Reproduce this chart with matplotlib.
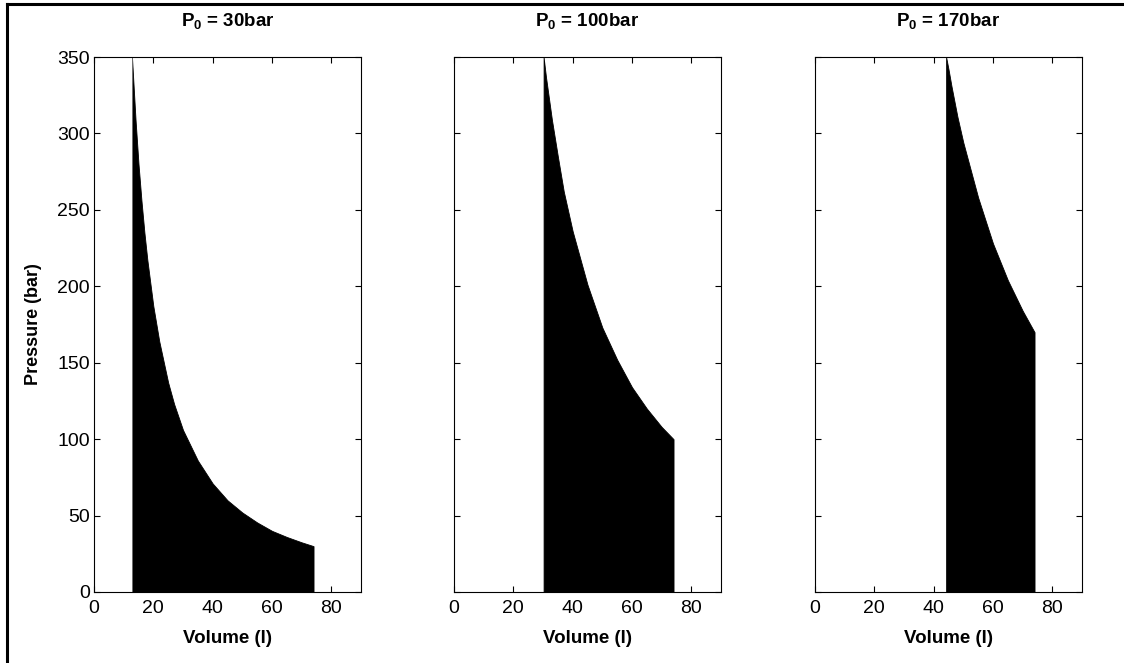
import matplotlib
matplotlib.use("Agg")
import matplotlib.pyplot as plt
from matplotlib.lines import Line2D

plt.rcParams['font.family'] = ['Liberation Sans', 'DejaVu Sans']
plt.rcParams['mathtext.fontset'] = 'custom'
plt.rcParams['mathtext.rm'] = 'Liberation Sans'
plt.rcParams['mathtext.bf'] = 'Liberation Sans:bold'

# values (volume in l, pressure in bar)
titles = ['P$_\\mathbf{0}$ = 30bar', 'P$_\\mathbf{0}$ = 100bar', 'P$_\\mathbf{0}$ = 170bar']

vol_30 = [12.8, 13, 14, 15, 16, 17, 18, 20, 22, 25, 27, 30, 35, 40, 45, 50, 55, 60, 65, 70, 74]
pres_30 = [350, 343, 309, 280, 256, 235, 217, 187, 164, 137, 123, 106, 86, 71, 60, 52, 45.5, 40, 36, 32.5, 30]

vol_100 = [30.2, 31, 32, 33, 35, 37, 40, 45, 50, 55, 60, 65, 70, 74]
pres_100 = [350, 337, 323, 309, 285, 262, 236, 201, 173, 152, 134, 120, 108, 100]

vol_170 = [44.2, 45, 46, 48, 50, 55, 60, 65, 70, 74]
pres_170 = [350, 342, 331, 311, 294, 258, 228, 204, 184, 170]

series = [(vol_30, pres_30), (vol_100, pres_100), (vol_170, pres_170)]
x_ticks = [0, 20, 40, 60, 80]
y_ticks = [0, 50, 100, 150, 200, 250, 300, 350]

fig = plt.figure(figsize=(11.24, 6.63), dpi=100)

# outer frame
fig.add_artist(Line2D([7 / 1124, 7 / 1124], [0, 1 - 4 / 663], transform=fig.transFigure, color='black', lw=2.2))
fig.add_artist(Line2D([7 / 1124, 1], [1 - 4 / 663, 1 - 4 / 663], transform=fig.transFigure, color='black', lw=2.2))

lefts = [94 / 1124, 454 / 1124, 815 / 1124]
width = 267 / 1124
bottom = 1 - 592 / 663
height = 535 / 663

for i, (vol, pres) in enumerate(series):
    ax = fig.add_axes([lefts[i], bottom, width, height])
    ax.fill_between(vol, 0, pres, facecolor='black', edgecolor='black', linewidth=0.6)
    if i == 0:
        ax.plot([vol[0], vol[0]], [0, pres[0]], color='#808080', lw=0.6)
    ax.set_xlim(0, 90)
    ax.set_ylim(0, 350)
    ax.set_xticks(x_ticks)
    ax.set_yticks(y_ticks)
    ax.tick_params(direction='in', length=4, width=0.8, top=True, right=True, labelsize=14, pad=3)
    ax.tick_params(axis='x', pad=6)
    for s in ax.spines.values():
        s.set_linewidth(0.8)
    if i > 0:
        ax.set_yticklabels([])
    else:
        ax.set_ylabel('Pressure (bar)', fontsize=13, fontweight='bold', labelpad=11)
    ax.set_xlabel('Volume (l)', fontsize=13.5, fontweight='bold', labelpad=9)
    ax.set_title(titles[i], fontsize=13.5, fontweight='bold', pad=22)

fig.savefig('out.png', dpi=100)
